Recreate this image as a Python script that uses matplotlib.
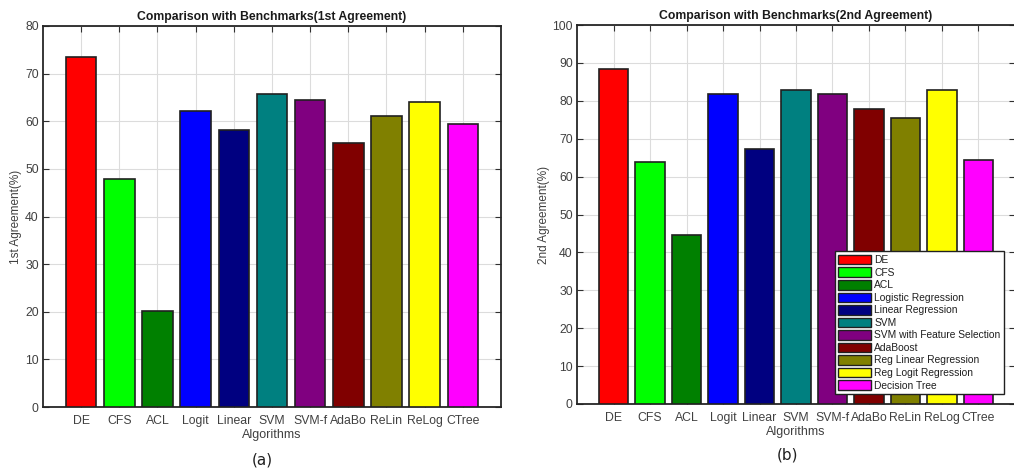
import numpy as np
import matplotlib.pyplot as plt
from matplotlib.patches import Patch

plt.rcParams['font.family'] = ['Liberation Sans', 'DejaVu Sans']

short_names = ['DE', 'CFS', 'ACL', 'Logit', 'Linear', 'SVM', 'SVM-f', 'AdaBo', 'ReLin', 'ReLog', 'CTree']
long_names = ['DE', 'CFS', 'ACL', 'Logistic Regression', 'Linear Regression', 'SVM',
              'SVM with Feature Selection', 'AdaBoost', 'Reg Linear Regression',
              'Reg Logit Regression', 'Decision Tree']
first_agree = [73.5, 47.8, 20.1, 62.2, 58.1, 65.8, 64.4, 55.5, 61.0, 64.0, 59.5]
second_agree = [88.4, 63.9, 44.7, 81.8, 67.4, 82.8, 81.8, 77.9, 75.5, 82.8, 64.4]
colors = ['#ff0000', '#00ff00', '#008000', '#0000ff', '#000080', '#008080',
          '#800080', '#800000', '#808000', '#ffff00', '#ff00ff']

txt = '#404040'
fig = plt.figure(figsize=(10.14, 4.7), dpi=100)
ax1 = fig.add_axes([43/1014, 1-407/470, 458/1014, 381/470])
ax2 = fig.add_axes([577/1014, 1-404/470, 438/1014, 379/470])

def draw(ax, vals, ymax, title, ylab):
    x = np.arange(1, len(vals)+1)
    ax.bar(x, vals, width=0.8, color=colors, edgecolor='#202020', linewidth=1.2, zorder=3)
    ax.set_xlim(0, 12)
    ax.set_ylim(0, ymax)
    ax.set_xticks(x)
    ax.set_xticklabels(short_names)
    ax.set_yticks(np.arange(0, ymax+1, 10))
    ax.grid(True, color='#dcdcdc', linewidth=0.8, zorder=0)
    ax.tick_params(direction='in', top=True, right=True, length=4, width=0.8,
                   labelsize=8.8, labelcolor=txt, color='#303030')
    ax.tick_params(axis='y', pad=3)
    ax.tick_params(axis='x', pad=6)
    for s in ax.spines.values():
        s.set_color('#262626')
        s.set_linewidth(1.3)
    ax.set_title(title, fontsize=8.8, fontweight='bold', color='#1a1a1a', pad=4)
    ax.set_xlabel('Algorithms', fontsize=9, color=txt, labelpad=1)
    ax.set_ylabel(ylab, fontsize=8.5, color=txt, labelpad=2)

draw(ax1, first_agree, 80, 'Comparison with Benchmarks(1st Agreement)', '1st Agreement(%)')
draw(ax2, second_agree, 100, 'Comparison with Benchmarks(2nd Agreement)', '2nd Agreement(%)')

handles = [Patch(facecolor=c, edgecolor='#202020', linewidth=1.0) for c in colors]
leg = ax2.legend(handles, long_names, loc='lower right', bbox_to_anchor=(0.975, 0.026),
                 fontsize=7.4, frameon=True, fancybox=False, framealpha=1,
                 handlelength=3.2, handleheight=1.05, handletextpad=0.3, labelspacing=0.22,
                 borderpad=0.35, borderaxespad=0)
leg.get_frame().set_edgecolor('#202020')
leg.get_frame().set_linewidth(1.0)
for t in leg.get_texts():
    t.set_color('#202020')

fig.text(262/1014, 1-460/470, '(a)', fontsize=11, ha='center', va='center', color='#202020',
         family=['DejaVu Sans'])
fig.text(787/1014, 1-455/470, '(b)', fontsize=11, ha='center', va='center', color='#202020',
         family=['DejaVu Sans'])

fig.savefig('out.png', dpi=100)
